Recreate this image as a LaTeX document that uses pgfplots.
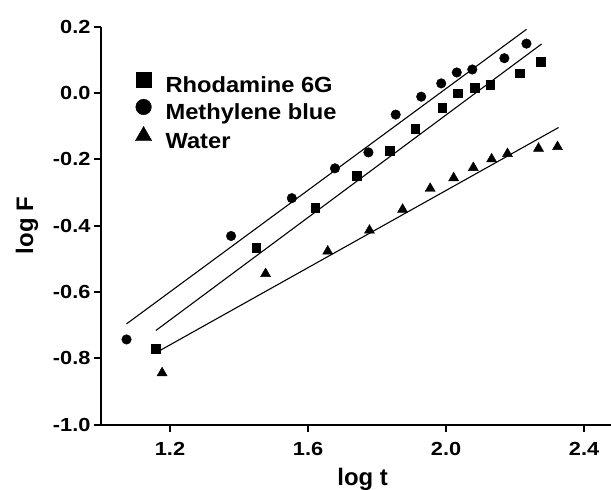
\documentclass[border=0pt]{standalone}
\usepackage{pgfplots}
\pgfplotsset{compat=1.18}
\usepackage{fontspec}
\setmainfont{Liberation Sans}
\newfontfamily\tickfont{Liberation Sans}[FakeStretch=1.15]
\newfontfamily\legfont{Liberation Sans}[FakeStretch=1.08]
\begin{document}
\begin{tikzpicture}
\begin{axis}[
  scale only axis,
  width=510bp, height=398bp,
  xmin=1.0, xmax=2.478, ymin=-1.0, ymax=0.2,
  axis x line=bottom, axis y line=left,
  axis line style={-, line width=2bp},
  every tick/.style={black, line width=2bp},
  tick align=outside,
  major tick length=7bp,
  xtick={1.2,1.6,2.0,2.4},
  ytick={-1.0,-0.8,-0.6,-0.4,-0.2,0.0,0.2},
  /pgf/number format/.cd, fixed, fixed zerofill, precision=1, assume math mode=true,
  /pgfplots/.cd,
  ticklabel style={font=\tickfont\bfseries\fontsize{19}{19}\selectfont},
  xticklabel style={yshift=-7bp},
  xlabel={log t}, ylabel={log F},
  label style={font=\bfseries\fontsize{24}{24}\selectfont},
  xlabel style={at={(axis description cs:0.513,-0.153)}, anchor=base},
  ylabel style={at={(axis description cs:-0.133,0.5)}, anchor=base, rotate=0},
  legend style={draw=none, fill=none, at={(axis description cs:0.067,0.887)}, anchor=north west,
    font=\legfont\bfseries\fontsize{22}{22}\selectfont, row sep=0.5bp, inner sep=0pt,
    nodes={inner sep=0pt, text height=20bp, text depth=6bp},
    legend cell align=left},
  legend image code/.code={\path[draw=none] (0bp,0bp) -- (22bp,0bp); \draw[#1] plot coordinates {(0bp,6bp)};},
]
\addplot[only marks, mark=square*, mark size=4.3bp, black, legend image post style={mark size=7.8bp}] coordinates {
(1.159,-0.770) (1.450,-0.466) (1.621,-0.346) (1.741,-0.250) (1.836,-0.173) (1.910,-0.107)
(1.989,-0.045) (2.034,0.000) (2.083,0.016) (2.128,0.026) (2.214,0.060) (2.274,0.094)};
\addlegendentry{Rhodamine 6G}
\addplot[only marks, mark=*, mark size=4.8bp, black, legend image post style={mark size=7.8bp}] coordinates {
(1.074,-0.743) (1.377,-0.431) (1.553,-0.317) (1.678,-0.227) (1.775,-0.179) (1.854,-0.065)
(1.928,-0.011) (1.986,0.029) (2.031,0.062) (2.076,0.071) (2.169,0.105) (2.233,0.149)};
\addlegendentry{Methylene blue}
\addplot[only marks, mark=triangle*, mark size=5.8bp, black, legend image post style={mark size=9.5bp}] coordinates {
(1.177,-0.844) (1.477,-0.545) (1.657,-0.477) (1.778,-0.414) (1.874,-0.351) (1.954,-0.288)
(2.022,-0.256) (2.079,-0.225) (2.132,-0.199) (2.178,-0.183) (2.268,-0.167) (2.323,-0.162)};
\addlegendentry{Water}
\addplot[black, line width=1.1bp, forget plot] coordinates {(1.074,-0.696) (2.233,0.192)};
\addplot[black, line width=1.1bp, forget plot] coordinates {(1.159,-0.716) (2.277,0.148)};
\addplot[black, line width=1.1bp, forget plot] coordinates {(1.173,-0.775) (2.326,-0.104)};
\end{axis}
\pgfresetboundingbox
\useasboundingbox (-101bp,-65bp) rectangle (510bp,424.7bp);
\end{tikzpicture}
\end{document}
